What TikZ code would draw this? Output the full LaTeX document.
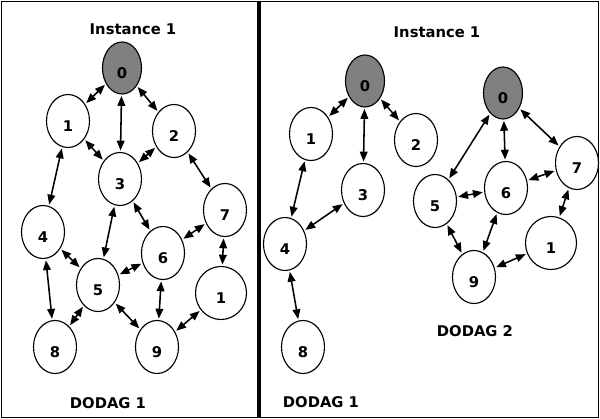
\documentclass[tikz,border=0pt]{standalone}
\usepackage{fontspec}
\setmainfont{DejaVu Sans}
\usetikzlibrary{arrows.meta,shapes.geometric}
\definecolor{cRoot}{RGB}{128,128,128}
\tikzset{
  nd/.style   = {ellipse, draw, line width=0.8pt, fill=white,
                 minimum width=1.075cm, minimum height=1.325cm, inner sep=0pt,
                 text height=1.5em, text depth=0pt,
                 font=\fontsize{10.5}{12}\selectfont\bfseries},
  root/.style = {nd, fill=cRoot, minimum width=0.975cm, minimum height=1.3cm},
  ttl/.style  = {font=\fontsize{10.5}{12}\selectfont\bfseries},
  frm/.style  = {line width=1.4pt},
  A/.style    = {{Triangle[length=7pt,width=5.5pt]}-{Triangle[length=7pt,width=5.5pt]},
                 line width=1.1pt, shorten >=1pt, shorten <=1pt},
}
\begin{document}
\begin{tikzpicture}[x=0.025cm, y=-0.025cm]
\useasboundingbox (0,0) rectangle (600,419);

%% ─── Panels ──────────────────────────────────────────────────
\draw[frm] (1.5,1.5) rectangle (258,417.5);
\draw[frm] (260,1.5) rectangle (598.5,417.5);

%% ════════════════════════════════════════════════════════════
%%  LEFT: one DODAG
%% ════════════════════════════════════════════════════════════
\node[ttl] (tL) at (133,29) {Instance 1};

\node[root] (L0) at (122,68)  {0};
\node[nd]   (L1) at (68,121)  {1};
\node[nd]   (L2) at (174,131) {2};
\node[nd]   (L3) at (120,179) {3};
\node[nd]   (L7) at (225,210) {7};
\node[nd]   (L4) at (43,232)  {4};
\node[nd]   (L6) at (163,253) {6};
\node[nd]   (L5) at (98,285)  {5};
\node[nd, minimum width=1.275cm] (L1b) at (221,293) {1};
\node[nd]   (L8) at (55,347)  {8};
\node[nd]   (L9) at (157,347) {9};

\draw[A] (L0) -- (L1);
\draw[A] (L0) -- (L3);
\draw[A] (L0) -- (L2);
\draw[A] (L1) -- (L3);
\draw[A] (L2) -- (L3);
\draw[A] (L1) -- (L4);
\draw[A] (L2) -- (L7);
\draw[A] (L3) -- (L5);
\draw[A] (L3) -- (L6);
\draw[A] (L4) -- (L5);
\draw[A] (L4) -- (L8);
\draw[A] (L5) -- (L6);
\draw[A] (L5) -- (L8);
\draw[A] (L5) -- (L9);
\draw[A] (L6) -- (L7);
\draw[A] (L6) -- (L9);
\draw[A] (L7) -- (L1b);
\draw[A] (L9) -- (L1b);

\node[ttl] (dL) at (108,403) {DODAG 1};

%% ════════════════════════════════════════════════════════════
%%  RIGHT: two DODAGs
%% ════════════════════════════════════════════════════════════
\node[ttl] (tR) at (437,32) {Instance 1};

%% DODAG 1
\node[root] (Ra0) at (365,81)  {0};
\node[nd]   (R1)  at (311,134) {1};
\node[nd]   (R2)  at (416,140) {2};
\node[nd]   (R3)  at (363,190) {3};
\node[nd]   (R4)  at (285,244) {4};
\node[nd]   (R8)  at (303,347) {8};

\draw[A] (Ra0) -- (R1);
\draw[A] (Ra0) -- (R3);
\draw[A] (Ra0) -- (R2);
\draw[A] (R1) -- (R4);
\draw[A] (R3) -- (R4);
\draw[A] (R4) -- (R8);

\node[ttl] (dR1) at (321,402) {DODAG 1};

%% DODAG 2
\node[root] (Rb0) at (503,93)  {0};
\node[nd]   (R7)  at (577,163) {7};
\node[nd]   (R6)  at (506,188) {6};
\node[nd]   (R5)  at (435,201) {5};
\node[nd, minimum width=1.275cm] (R1b) at (551,243) {1};
\node[nd]   (R9)  at (474,277) {9};

\draw[A] (Rb0) -- (R5);
\draw[A] (Rb0) -- (R6);
\draw[A] (Rb0) -- (R7);
\draw[A] (R5) -- (R6);
\draw[A] (R6) -- (R7);
\draw[A] (R7) -- (R1b);
\draw[A] (R5) -- (R9);
\draw[A] (R6) -- (R9);
\draw[A] (R9) -- (R1b);

\node[ttl] (dR2) at (475,331) {DODAG 2};

\end{tikzpicture}
\end{document}
